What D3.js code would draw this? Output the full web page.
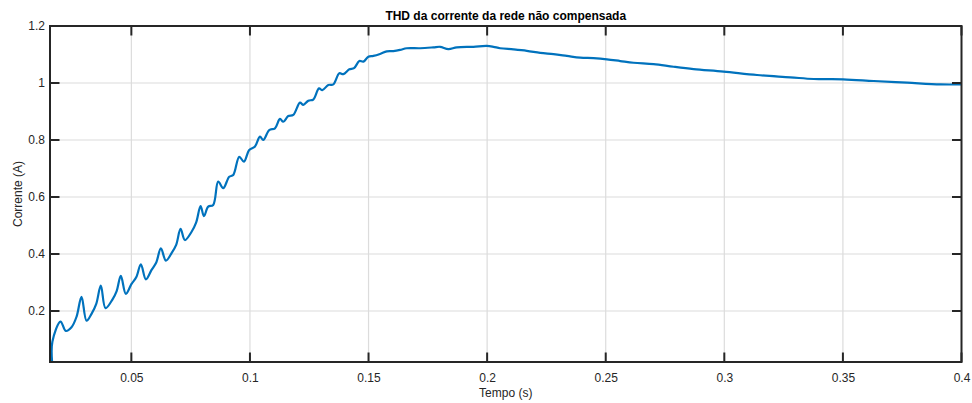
<!DOCTYPE html>
<html>
<head>
<meta charset="utf-8">
<script src="https://cdn.jsdelivr.net/npm/d3@7"></script>
<style>
  html, body { margin: 0; padding: 0; background: #fff; }
  svg { display: block; font-family: "Liberation Sans", Arial, Helvetica, sans-serif; }
</style>
</head>
<body>
<svg id="chart" width="972" height="403"></svg>
<script>
// Time samples (s) and grid current THD (A)
const tempo = [
  0.01658, 0.01670, 0.02013, 0.02236, 0.02477, 0.02690, 0.02899, 0.03110, 0.03321, 0.03520,
  0.03713, 0.03911, 0.04207, 0.04380, 0.04557, 0.04768, 0.05008, 0.05210, 0.05401, 0.05612,
  0.05852, 0.06050, 0.06245, 0.06456, 0.06696, 0.06890, 0.07076, 0.07257, 0.07540, 0.07730,
  0.07920, 0.08059, 0.08241, 0.08451, 0.08662, 0.08873, 0.09127, 0.09295, 0.09549, 0.09747,
  0.09970, 0.10211, 0.10422, 0.10561, 0.10814, 0.11055, 0.11266, 0.11405, 0.11616, 0.11827,
  0.12110, 0.12249, 0.12460, 0.12671, 0.12911, 0.13051, 0.13304, 0.13515, 0.13768, 0.13937,
  0.14190, 0.14388, 0.14612, 0.14781, 0.14992, 0.15203, 0.15485, 0.15768, 0.16046, 0.16329,
  0.16612, 0.17173, 0.17734, 0.18017, 0.18367, 0.18722, 0.19422, 0.19987, 0.20266, 0.20549,
  0.21110, 0.21675, 0.22236, 0.22797, 0.23363, 0.23924, 0.24485, 0.25051, 0.25612, 0.26173,
  0.27017, 0.27861, 0.28705, 0.29970, 0.31380, 0.32785, 0.33768, 0.35008, 0.36300, 0.37709,
  0.39114, 0.40000
];
const corrente = [
  0.020, 0.092, 0.163, 0.130, 0.143, 0.180, 0.250, 0.166, 0.190, 0.225,
  0.289, 0.210, 0.241, 0.270, 0.323, 0.260, 0.295, 0.319, 0.364, 0.311,
  0.344, 0.370, 0.420, 0.377, 0.403, 0.432, 0.488, 0.449, 0.478, 0.510,
  0.568, 0.533, 0.566, 0.572, 0.654, 0.631, 0.671, 0.677, 0.741, 0.724,
  0.765, 0.777, 0.812, 0.800, 0.835, 0.841, 0.874, 0.864, 0.884, 0.888,
  0.931, 0.923, 0.938, 0.942, 0.981, 0.975, 0.993, 0.995, 1.034, 1.031,
  1.048, 1.052, 1.077, 1.075, 1.092, 1.095, 1.102, 1.111, 1.112, 1.116,
  1.122, 1.122, 1.125, 1.127, 1.119, 1.125, 1.127, 1.130, 1.127, 1.122,
  1.118, 1.113, 1.106, 1.101, 1.095, 1.089, 1.087, 1.083, 1.077, 1.071,
  1.066, 1.057, 1.049, 1.040, 1.028, 1.020, 1.014, 1.013, 1.007, 1.001,
  0.995, 0.995
];
const xTicks = [0.05, 0.1, 0.15, 0.2, 0.25, 0.3, 0.35, 0.4];
const yTicks = [0.2, 0.4, 0.6, 0.8, 1, 1.2];

const W = 972, H = 403;
const m = { left: 50, right: 10.5, top: 26, bottom: 41 };
const iw = W - m.left - m.right, ih = H - m.top - m.bottom;
const axisColor = "#262626";
const tickLen = 9.5;

const svg = d3.select("#chart");
const x = d3.scaleLinear().domain([0.0157, 0.4]).range([m.left, m.left + iw]);
const y = d3.scaleLinear().domain([0.021, 1.2]).range([m.top + ih, m.top]);
const x0 = m.left, x1 = m.left + iw, y0 = m.top + ih, y1 = m.top;

// grid
const grid = svg.append("g").attr("stroke", "#dcdcdc").attr("stroke-width", 1.2);
grid.selectAll("line.gx").data(xTicks).join("line").attr("class", "gx")
  .attr("x1", d => x(d)).attr("x2", d => x(d))
  .attr("y1", y1).attr("y2", y0);
grid.selectAll("line.gy").data(yTicks).join("line").attr("class", "gy")
  .attr("x1", x0).attr("x2", x1)
  .attr("y1", d => y(d)).attr("y2", d => y(d));

// data line
svg.append("clipPath").attr("id", "plotclip").append("rect")
  .attr("x", x0).attr("y", y1).attr("width", iw).attr("height", ih);
const pts = tempo.map((t, i) => [t, corrente[i]]);
const line = d3.line().x(d => x(d[0])).y(d => y(d[1])).curve(d3.curveCatmullRom.alpha(0.5));
svg.append("path").datum(pts)
  .attr("clip-path", "url(#plotclip)")
  .attr("fill", "none").attr("stroke", "#0072BD").attr("stroke-width", 2.2)
  .attr("stroke-linejoin", "round")
  .attr("d", line);

// tick labels via d3 axes (tick lines drawn separately, inward)
const fmt = d => String(d);
function styleAxis(g) {
  g.select("path.domain").remove();
  g.selectAll(".tick line").remove();
  g.selectAll(".tick text").attr("fill", axisColor).attr("font-size", 12)
    .attr("font-family", "'Liberation Sans', Arial, sans-serif");
}
svg.append("g").attr("transform", `translate(0,${y0})`)
  .call(d3.axisBottom(x).tickValues(xTicks).tickSize(0).tickPadding(11.5).tickFormat(fmt))
  .call(styleAxis);
svg.append("g").attr("transform", `translate(${x0},0)`)
  .call(d3.axisLeft(y).tickValues(yTicks).tickSize(0).tickPadding(5).tickFormat(fmt))
  .call(styleAxis);

// inward tick marks on all four sides
const ticks = svg.append("g").attr("stroke", axisColor).attr("stroke-width", 2);
ticks.selectAll("line.tb").data(xTicks).join("line").attr("class", "tb")
  .attr("x1", d => x(d)).attr("x2", d => x(d)).attr("y1", y0).attr("y2", y0 - tickLen);
ticks.selectAll("line.tt").data(xTicks).join("line").attr("class", "tt")
  .attr("x1", d => x(d)).attr("x2", d => x(d)).attr("y1", y1).attr("y2", y1 + tickLen);
ticks.selectAll("line.tl").data(yTicks).join("line").attr("class", "tl")
  .attr("x1", x0).attr("x2", x0 + tickLen).attr("y1", d => y(d)).attr("y2", d => y(d));
ticks.selectAll("line.tr").data(yTicks).join("line").attr("class", "tr")
  .attr("x1", x1).attr("x2", x1 - tickLen).attr("y1", d => y(d)).attr("y2", d => y(d));

// axes box
svg.append("rect").attr("x", x0).attr("y", y1).attr("width", iw).attr("height", ih)
  .attr("fill", "none").attr("stroke", axisColor).attr("stroke-width", 2);

// titles
svg.append("text").attr("x", (x0 + x1) / 2).attr("y", 20)
  .attr("text-anchor", "middle").attr("font-size", 12).attr("font-weight", "bold")
  .attr("fill", "#000").text("THD da corrente da rede não compensada");
svg.append("text").attr("x", (x0 + x1) / 2).attr("y", 397)
  .attr("text-anchor", "middle").attr("font-size", 12).attr("fill", axisColor)
  .text("Tempo (s)");
svg.append("text").attr("transform", `translate(22,${(y0 + y1) / 2}) rotate(-90)`)
  .attr("text-anchor", "middle").attr("font-size", 12).attr("fill", axisColor)
  .text("Corrente (A)");
</script>
</body>
</html>
